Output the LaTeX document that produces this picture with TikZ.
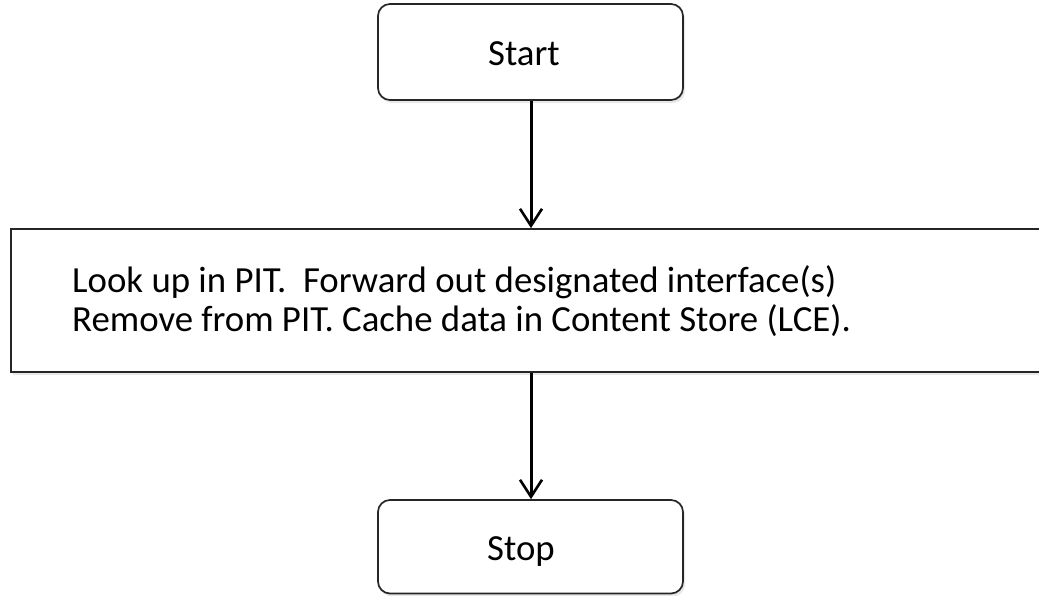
\documentclass[tikz,border=0pt]{standalone}
\usepackage{fontspec}
\setmainfont{Carlito}
\usetikzlibrary{arrows.meta,shadows}
\begin{document}
\begin{tikzpicture}[x=1pt,y=-1pt,
  boxline/.style={draw=black!85, line width=1.7pt, fill=white,
    drop shadow={opacity=0.18, shadow xshift=2pt, shadow yshift=-3pt}},
  termbox/.style={boxline, rounded corners=12pt, minimum width=305pt, inner sep=0pt},
  flow/.style={line width=3pt, -{Straight Barb[length=17pt,width=22pt,line width=2.6pt]}},
  txt/.style={font=\fontsize{36.8}{39}\selectfont, inner sep=0pt}
]
\useasboundingbox (0,0) rectangle (1039,595);
\clip (0,0) rectangle (1039,595);
\node[termbox, minimum height=96pt] (start) at (530.5,52) {};
\node[txt, anchor=base] (starttxt) at (524,65) {Start};
\node[boxline, minimum width=1040pt, minimum height=143pt, inner sep=0pt] (proc) at (531,300.5) {};
\node[txt, anchor=base west] (l1) at (72,292) {Look up in PIT.\ \ Forward out designated interface(s)};
\node[txt, anchor=base west] (l2) at (72,331) {Remove from PIT. Cache data in Content Store (LCE).};
\node[termbox, minimum height=93.5pt] (stop) at (530.5,546.75) {};
\node[txt, anchor=base] (stoptxt) at (521,560) {Stop};
\draw[flow] (start.south -| 531,0) -- (proc.north -| 531,0);
\draw[flow] (proc.south -| 531,0) -- (stop.north -| 531,0);
\end{tikzpicture}
\end{document}
